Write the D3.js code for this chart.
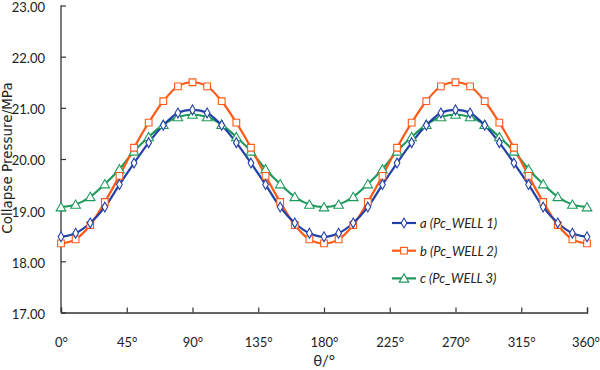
<!DOCTYPE html>
<html><head><meta charset="utf-8">
<script src="https://cdn.jsdelivr.net/npm/d3@7"></script>
<style>body{margin:0;background:#fff}svg{display:block}</style>
</head><body>
<svg id="c" width="600" height="370"></svg>
<script>
const angles = [0,10,20,30,40,50,60,70,80,90,100,110,120,130,140,150,160,170,180,190,200,210,220,230,240,250,260,270,280,290,300,310,320,330,340,350,360];
const seriesA = [18.48,18.55,18.75,19.06,19.50,19.92,20.32,20.66,20.90,20.96,20.90,20.66,20.32,19.92,19.50,19.06,18.75,18.55,18.48,18.55,18.75,19.06,19.50,19.92,20.32,20.66,20.90,20.96,20.90,20.66,20.32,19.92,19.50,19.06,18.75,18.55,18.48];
const seriesB = [18.35,18.43,18.71,19.16,19.67,20.22,20.71,21.13,21.42,21.50,21.42,21.13,20.71,20.22,19.67,19.16,18.71,18.43,18.35,18.43,18.71,19.16,19.67,20.22,20.71,21.13,21.42,21.50,21.42,21.13,20.71,20.22,19.67,19.16,18.71,18.43,18.35];
const seriesC = [19.06,19.11,19.26,19.51,19.80,20.15,20.43,20.67,20.82,20.87,20.82,20.67,20.43,20.15,19.80,19.51,19.26,19.11,19.06,19.11,19.26,19.51,19.80,20.15,20.43,20.67,20.82,20.87,20.82,20.67,20.43,20.15,19.80,19.51,19.26,19.11,19.06];
const seriesNames = ["a (Pc_WELL 1)","b (Pc_WELL 2)","c (Pc_WELL 3)"];
const xTicks = [0,45,90,135,180,225,270,315,360];
const yTicks = [17,18,19,20,21,22,23];

const svg = d3.select("#c");
const x = d3.scaleLinear().domain([0,360]).range([61,587]);
const y = d3.scaleLinear().domain([17,23]).range([312.5,5.5]);
const tickFont = "Lato, 'Open Sans', sans-serif";

// axes
const gx = svg.append("g").attr("transform",`translate(0,${y(17)})`)
  .call(d3.axisBottom(x).tickValues(xTicks).tickSize(-5).tickPadding(25).tickFormat(d=>d+"°"));
const gy = svg.append("g").attr("transform",`translate(${x(0)},0)`)
  .call(d3.axisLeft(y).tickValues(yTicks).tickSize(-5).tickPadding(16).tickFormat(d3.format(".2f")));
[gx,gy].forEach(g=>{
  g.select(".domain").attr("stroke","#333").attr("stroke-width",1.3);
  g.selectAll(".tick line").attr("stroke","#333").attr("stroke-width",1.2);
  g.selectAll(".tick text").attr("fill","#222").style("font-family",tickFont).style("font-size","13px");
});
gx.selectAll(".tick text").filter(d=>d===360).attr("dx","-1.5");
gy.selectAll(".tick text").attr("dy","0.45em");
gy.select(".domain").attr("d",`M0,${y(23)}V${y(17)}`);

// titles
svg.append("text").attr("x",324).attr("y",366).attr("text-anchor","middle")
  .style("font-family",tickFont).style("font-size","15px").attr("fill","#222").text("θ/°");
svg.append("text").attr("transform",`translate(11.5,158) rotate(-90)`).attr("text-anchor","middle")
  .style("font-family","'DejaVu Sans', sans-serif").style("font-size","13.5px").attr("fill","#222").text("Collapse Pressure/MPa");

const colors = ["#2340A6","#FF5A17","#1F9A5C"];
const data = [seriesA,seriesB,seriesC];
const shapes = [d3.symbolDiamond, d3.symbolSquare, d3.symbolTriangle];
const sizes = [28, 45, 40];

const line = d3.line().x((d,i)=>x(angles[i])).y(d=>y(d)).curve(d3.curveCatmullRom.alpha(0.5));
const order = [2,1,0];
order.forEach(k=>{
  svg.append("path").datum(data[k]).attr("d",line).attr("fill","none")
    .attr("stroke",colors[k]).attr("stroke-width",2.2);
});
order.forEach(k=>{
  svg.append("g").selectAll("path").data(data[k]).join("path")
    .attr("transform",(d,i)=>`translate(${x(angles[i])},${y(d) + (k===2?1:0)})`)
    .attr("d",d3.symbol().type(shapes[k]).size(sizes[k]))
    .attr("fill","#fff").attr("stroke",colors[k]).attr("stroke-width",1.1);
});

// legend
const lg = svg.append("g");
seriesNames.forEach((n,k)=>{
  const ly = 223 + k*27.7;
  lg.append("line").attr("x1",392).attr("x2",416).attr("y1",ly).attr("y2",ly)
    .attr("stroke",colors[k]).attr("stroke-width",2.2);
  lg.append("path").attr("transform",`translate(404,${ly + (k===2?1:0)})`)
    .attr("d",d3.symbol().type(shapes[k]).size(sizes[k]))
    .attr("fill","#fff").attr("stroke",colors[k]).attr("stroke-width",1.1);
  lg.append("text").attr("x",420).attr("y",ly+5).style("font-family",tickFont)
    .style("font-size","13px").style("font-style","italic").attr("fill","#222").text(n);
});
</script>
</body></html>
